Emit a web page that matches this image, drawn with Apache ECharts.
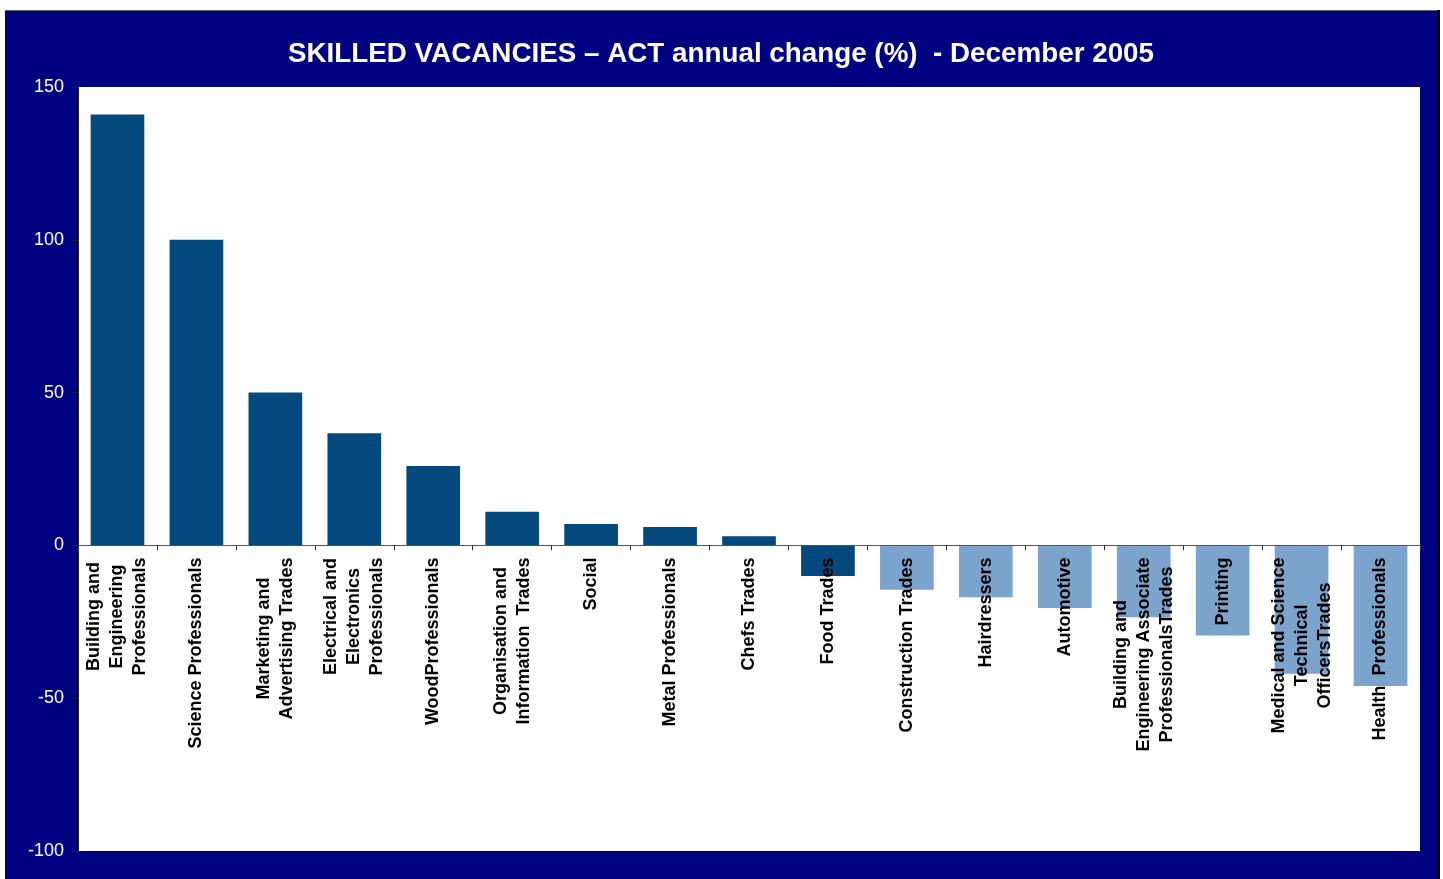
<!DOCTYPE html>
<html>
<head>
<meta charset="utf-8">
<title>Skilled vacancies - ACT</title>
<script src="https://cdn.jsdelivr.net/npm/echarts@6/dist/echarts.min.js"></script>
<style>
    html, body { margin: 0; padding: 0; background: #fff; overflow: hidden; }
    #frame {
        position: absolute;
        left: 5px;
        top: 10px;
        width: 1432px;
        height: 869px;
        background: #000080;
        border-top: 1px solid #666;
        box-shadow: 3px 0 0 #000;
    }
    #chart { width: 100%; height: 100%; }
</style>
</head>
<body>
<div id="frame"><div id="chart"></div></div>
<script>
// categories (line breaks as in the original labels)
var categories = [
    'Building and\nEngineering\nProfessionals',
    'Science Professionals',
    'Marketing and\nAdvertising Trades',
    'Electrical and\nElectronics\nProfessionals',
    'WoodProfessionals',
    'Organisation and\nInformation  Trades',
    'Social',
    'Metal Professionals',
    'Chefs Trades',
    'Food Trades',
    'Construction Trades',
    'Hairdressers',
    'Automotive',
    'Building and\nEngineering Associate\nProfessionalsTrades',
    'Printing',
    'Medical and Science\nTechnical\nOfficersTrades',
    'Health  Professionals'
];

// annual change (%)
var changes = [141, 100, 50, 36.7, 26, 11, 7, 6, 3, -10, -14.5, -17, -20.5, -23.5, -29.5, -42, -46];

// the first ten bars are drawn in the darker shade
var darkCount = 10;

var yTicks = { min: -100, max: 150, step: 50 };

var gridTop = 76, gridBottom = 29;
var frameH = 869;
var plotH = frameH - gridTop - gridBottom;
// the category axis sits on the zero line, labels hang below it
var zeroOffset = -plotH * (0 - yTicks.min) / (yTicks.max - yTicks.min);

var chart = echarts.init(document.getElementById('chart'));

var option = {
    backgroundColor: 'transparent',
    title: {
        text: 'SKILLED VACANCIES \u2013 ACT annual change (%)  - December 2005',
        left: 'center',
        top: 24,
        textStyle: {
            color: '#fff',
            fontFamily: 'Liberation Sans, Arial, sans-serif',
            fontWeight: 'bold',
            fontSize: 27.8
        }
    },
    grid: {
        show: true,
        backgroundColor: '#fff',
        borderWidth: 0,
        left: 73,
        right: 17,
        top: gridTop,
        bottom: gridBottom,
        containLabel: false,
        outerBoundsMode: 'none'
    },
    xAxis: {
        type: 'category',
        data: categories,
        offset: zeroOffset,
        axisLine: { onZero: false, lineStyle: { color: '#555', width: 1 } },
        axisTick: { show: true, length: 5, lineStyle: { color: '#333' } },
        axisLabel: {
            interval: 0,
            rotate: 90,
            margin: 12,
            color: '#000',
            fontFamily: 'Liberation Sans, Arial, sans-serif',
            fontWeight: 'bold',
            fontSize: 18,
            lineHeight: 23,
            formatter: function (v) {
                return v.split('\n').map(function (l) { return '{c|' + l + '}'; }).join('\n');
            },
            rich: {
                c: {
                    align: 'center',
                    color: '#000',
                    fontFamily: 'Liberation Sans, Arial, sans-serif',
                    fontWeight: 'bold',
                    fontSize: 18,
                    lineHeight: 23
                }
            }
        },
        z: 5
    },
    yAxis: {
        type: 'value',
        min: yTicks.min,
        max: yTicks.max,
        interval: yTicks.step,
        axisLine: { show: true, lineStyle: { color: '#222' } },
        axisTick: { show: true, length: 6, lineStyle: { color: '#222' } },
        splitLine: { show: false },
        axisLabel: {
            color: '#fff',
            fontFamily: 'Liberation Sans, Arial, sans-serif',
            fontSize: 18,
            margin: 14
        }
    },
    series: [
        {
            type: 'bar',
            barCategoryGap: '32%',
            data: changes.map(function (v, i) {
                return {
                    value: v,
                    itemStyle: { color: i < darkCount ? '#03497E' : '#7BA3CB' }
                };
            }),
            z: 1
        }
    ]
};

chart.setOption(option);
</script>
</body>
</html>
